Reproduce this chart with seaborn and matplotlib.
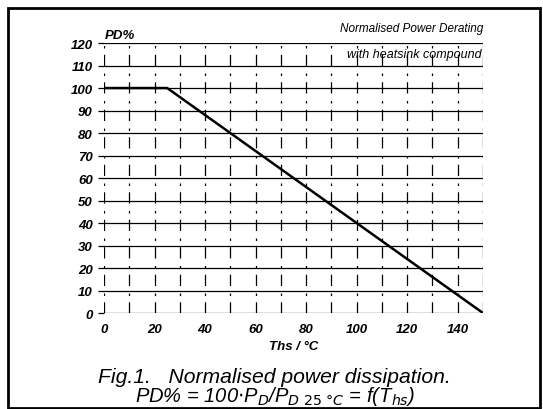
import pandas as pd
import seaborn as sns
import matplotlib.pyplot as plt
from matplotlib.patches import Rectangle

# derating curve: heatsink temperature (deg C) vs normalised power (%)
ths = [0, 25, 150]
pd_pct = [100, 100, 0]
x_ticks = [0, 20, 40, 60, 80, 100, 120, 140]
y_ticks = [0, 10, 20, 30, 40, 50, 60, 70, 80, 90, 100, 110, 120]

sns.set_style("white")
plt.rcParams['font.family'] = ['Liberation Sans', 'DejaVu Sans']
plt.rcParams['text.color'] = 'black'
plt.rcParams['xtick.color'] = 'black'
plt.rcParams['ytick.color'] = 'black'
plt.rcParams['axes.labelcolor'] = 'black'
plt.rcParams['mathtext.default'] = 'it'

fig = plt.figure(figsize=(5.43, 4.10), dpi=100)
ax = fig.add_axes([0.1915, 0.2341, 0.698, 0.6585])

df = pd.DataFrame({'Ths': ths, 'PD': pd_pct})

# grid: solid horizontal lines, broken vertical lines like the scanned sheet
for y in y_ticks:
    ax.axhline(y, color='black', lw=0.9, zorder=1)
for x in range(0, 151, 10):
    ax.axvline(x, color='black', lw=0.9, ls=(0, (9, 5, 2, 6)), zorder=1)

sns.lineplot(data=df, x='Ths', y='PD', color='black', lw=1.8, ax=ax, zorder=3)

ax.set_xlim(0, 150)
ax.set_ylim(0, 120)
ax.set_xticks(x_ticks)
ax.set_yticks(y_ticks)
ax.set_xticklabels([str(v) for v in x_ticks], fontsize=9.5, fontweight='bold', style='italic')
ax.set_yticklabels([str(v) for v in y_ticks], fontsize=9.5, fontweight='bold', style='italic')
ax.tick_params(axis='y', length=4, width=0.9, pad=4, left=True)
ax.tick_params(axis='x', length=0, pad=7)
for s in ax.spines.values():
    s.set_visible(False)
ax.set_xlabel('Ths / °C', fontsize=9.5, fontweight='bold', style='italic', labelpad=4)
ax.set_ylabel('')

ax.text(0.5, 120.8, 'PD%', fontsize=9.5, fontweight='bold', style='italic', va='bottom')
ax.text(150, 124, 'Normalised Power Derating', fontsize=8.5, style='italic',
        ha='right', va='bottom')
ax.text(149.5, 115, 'with heatsink compound', fontsize=9, style='italic',
        ha='right', va='center')

fig.text(0.505, 1 - 383 / 410, 'Fig.1.   Normalised power dissipation.', fontsize=15.2,
         style='italic', ha='center', va='baseline')
fig.text(0.506, 1 - 402 / 410,
         r'PD% = 100$\cdot$P$_D$/P$_{D\ 25\ °C}$ = f(T$_{hs}$)',
         fontsize=14.5, style='italic', ha='center', va='baseline')

# outer frame
fig.patches.append(Rectangle((8 / 543, 1 - 409 / 410), 532 / 543, 400 / 410,
                             transform=fig.transFigure, fill=False,
                             edgecolor='black', lw=2))

fig.savefig('out.png', dpi=100)
